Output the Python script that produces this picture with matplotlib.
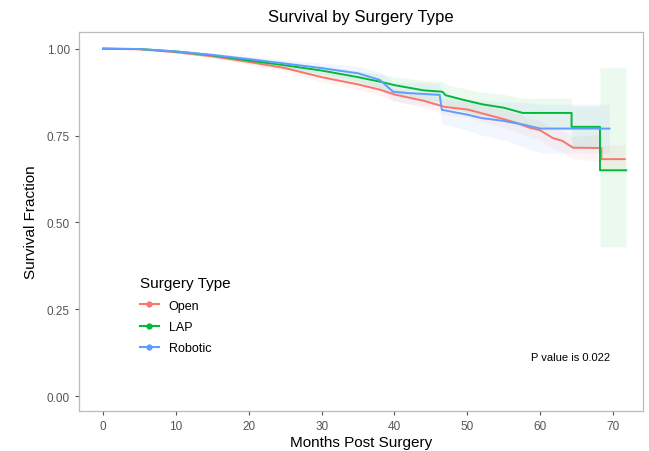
import matplotlib
matplotlib.use('Agg')
import matplotlib.pyplot as plt
from matplotlib.lines import Line2D
import numpy as np

plt.rcParams['font.family'] = ['Liberation Sans', 'DejaVu Sans']

# Kaplan-Meier estimates (corners of the curves)
open_t = [0, 5, 10, 15, 20, 25, 30, 35, 38, 40, 44, 47, 50, 54.5, 57, 58.6, 60, 61.7, 63, 64.5,
          68.4, 68.4, 71.6]
open_s = [1, .998, .99, .978, .962, .944, .918, .897, .882, .868, .85, .832, .825, .80, .785, .772,
          .765, .743, .735, .715, .714, .682, .682]
open_hw = [0, 0, .003, .005, .008, .01, .013, .015, .017, .018, .02, .022, .023, .025, .027, .027,
           .028, .03, .031, .032, .04, .04, .04]

lap_t = [0, 5, 10, 15, 20, 25, 30, 35, 38, 40, 44, 46.6, 47, 49.4, 52, 55, 57.6, 64.3, 64.3, 68.2,
         68.2, 71.8]
lap_s = [1, .999, .992, .981, .966, .952, .937, .918, .905, .895, .88, .876, .866, .853, .84, .83,
         .815, .815, .775, .775, .65, .65]
lap_hw_low = [0, 0, .004, .006, .009, .011, .014, .018, .022, .024, .028, .03, .031, .033, .035, .038,
              .042, .042, .06, .06, .22, .22]
lap_hw_high = [0, 0, .004, .006, .009, .011, .014, .018, .022, .024, .028, .03, .031, .033, .035, .038,
               .042, .042, .06, .06, .295, .295]

rob_t = [0, 5, 10, 15, 20, 25, 30, 35, 38, 39.8, 42, 46.2, 46.5, 50, 52, 55, 58, 60, 69.5]
rob_s = [1, .999, .992, .982, .97, .957, .944, .929, .91, .876, .872, .867, .824, .81, .80, .792,
         .78, .77, .77]
rob_hw = [0, 0, .004, .006, .009, .011, .015, .02, .024, .027, .03, .034, .04, .045, .05, .055, .065,
          .07, .07]

groups = ['Open', 'LAP', 'Robotic']
colors = ['#F8766D', '#00BA38', '#619CFF']

fig = plt.figure(figsize=(6.49, 4.52), dpi=100)
ax = fig.add_axes([0.1217, 0.0885, 0.869, 0.8385])

curves = [
    (open_t, open_s, np.array(open_s) - open_hw, np.array(open_s) + open_hw),
    (lap_t, lap_s, np.array(lap_s) - lap_hw_low, np.array(lap_s) + lap_hw_high),
    (rob_t, rob_s, np.array(rob_s) - rob_hw, np.array(rob_s) + rob_hw),
]

for (t, s, lo, hi), c in zip(curves, colors):
    ax.fill_between(t, lo, hi, color=c, alpha=0.08, linewidth=0)
    ax.plot(t, s, color=c, linewidth=1.4)

ax.set_xlim(-3.3, 74.1)
ax.set_ylim(-0.043, 1.048)
ax.set_xticks([0, 10, 20, 30, 40, 50, 60, 70])
ax.set_yticks([0, 0.25, 0.5, 0.75, 1.0])
ax.set_yticklabels(['0.00', '0.25', '0.50', '0.75', '1.00'])
ax.tick_params(colors='#555555', labelsize=8.5, length=3, width=0.8)
for sp in ax.spines.values():
    sp.set_color('#bbbbbb')
    sp.set_linewidth(0.9)

ax.set_title('Survival by Surgery Type', fontsize=12, pad=8)
ax.set_xlabel('Months Post Surgery', fontsize=11, labelpad=2)
ax.set_ylabel('Survival Fraction', fontsize=11, labelpad=6)

handles = [Line2D([], [], color=c, linewidth=1.5, marker='o', markersize=3.5) for c in colors]
ax.legend(handles, groups, title='Surgery Type', loc='upper left', bbox_to_anchor=(0.088, 0.385),
          frameon=False, fontsize=9, title_fontsize=11, handlelength=1.5, labelspacing=0.75,
          alignment='left')

ax.text(0.872, 0.142, 'P value is 0.022', transform=ax.transAxes, fontsize=8, ha='center', va='center')

fig.savefig('out.png', dpi=100)
